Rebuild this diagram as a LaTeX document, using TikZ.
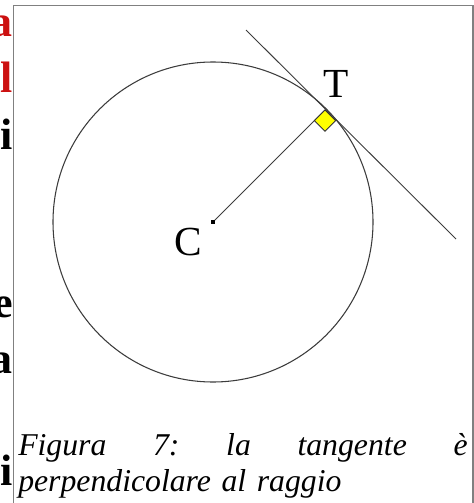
\documentclass[tikz,border=0pt]{standalone}
\usepackage{fontspec}
\setmainfont{Liberation Serif}
\usetikzlibrary{calc}
\definecolor{lineGray}{RGB}{60,60,60}
\definecolor{frameGray}{RGB}{128,128,128}
\definecolor{sideRed}{RGB}{204,17,17}
\definecolor{markYellow}{RGB}{255,255,0}
\tikzset{
  frameln/.style={draw=frameGray, line width=0.9pt},
  circln/.style={draw=lineGray, line width=0.8pt},
  tanln/.style={draw=lineGray, line width=0.7pt},
  radln/.style={draw=lineGray, line width=0.7pt},
  rtmark/.style={fill=markYellow, draw=black!80, line width=0.6pt, line join=miter},
  ptlbl/.style={font=\fontsize{31}{33}\selectfont, inner sep=0pt},
  sidech/.style={font=\fontsize{33}{40}\selectfont\bfseries, anchor=base east, inner sep=0pt},
  capt/.style={font=\fontsize{23.8}{27}\selectfont\itshape, text width=337pt,
    align=left, inner sep=0pt, anchor=north west},
}

\begin{document}
\begin{tikzpicture}[x=0.75pt, y=-0.75pt]
    \useasboundingbox (0,0) rectangle (474,503);
    % ----- frame and cut letters -----
    \draw[frameln] (13.5,503) -- (13.5,5.5) -- (473,5.5) -- (473,503);
    \foreach \ch/\yy/\cc in {a/37/sideRed, l/93/sideRed, i/149/black, e/317/black, a/373/black, i/485/black}
      \node[sidech, text=\cc] (side-\yy) at (13,\yy) {\ch};
    % ----- circle, radius, tangent -----
    \coordinate (C) at (213,222);
    \coordinate (T) at ($(C)+(112,-112)$);
    \coordinate (tanA) at (246,30);
    \coordinate (tanB) at (456,239);
    \draw[circln] (C) circle[radius=160];
    \draw[tanln] (tanA) -- (tanB);
    \draw[radln] (C) -- (T);
    \draw[rtmark] (T) -- ++(10.6,10.6) -- ++(-10.6,10.6) -- ++(-10.6,-10.6) -- cycle;
    \fill[black] ($(C)+(-2,-2)$) rectangle ($(C)+(2,2)$);
    \node[ptlbl] (lblC) at (188,242) {C};
    \node[ptlbl] (lblT) at (336,84) {T};
    % ----- caption -----
    \node[capt] (caption) at (18,433)
      {Figura\hfill 7:\hfill la\hfill tangente\hfill è\\perpendicolare al raggio};
\end{tikzpicture}
\end{document}
